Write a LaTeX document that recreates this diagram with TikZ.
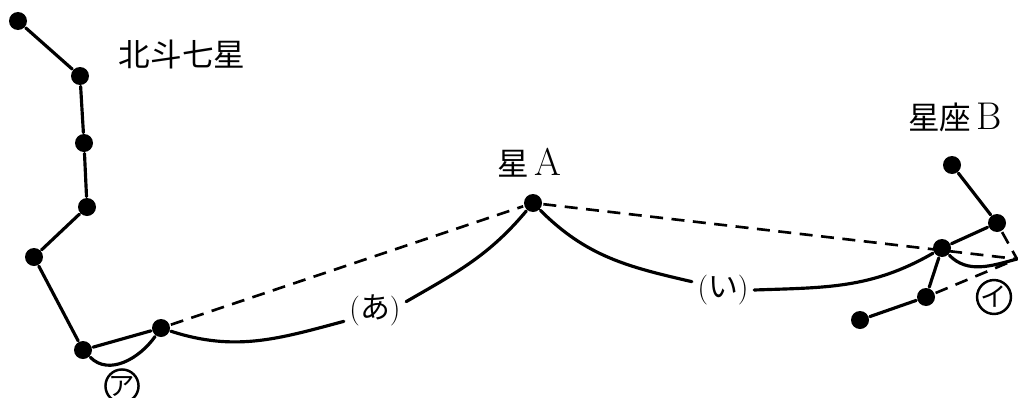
\documentclass[tikz,border=0pt]{standalone}
\usepackage{fontspec}
\newfontfamily\cjk{Noto Sans CJK JP}
\pgfdeclarelayer{bg}
\pgfsetlayers{bg,main}
\begin{document}
\begin{tikzpicture}[x=0.2mm,y=0.2mm,
  star/.style={circle,fill=black,minimum size=3.6mm,inner sep=0pt,outer sep=0.8pt},
  link/.style={line width=1.8pt,line cap=round},
  guide/.style={line width=1.5pt,dash pattern=on 2.6mm off 1.7mm},
  lbl/.style={font=\cjk\fontsize{18}{20}\selectfont,inner sep=1pt},
  tag/.style={font=\cjk\fontsize{17}{20}\selectfont,inner sep=3pt},
  cmark/.style={circle,draw,line width=1.4pt,minimum size=6.2mm,inner sep=0pt,
    font=\cjk\fontsize{15}{15}\selectfont}
]
\useasboundingbox (0,0) rectangle (1018,397);

% Big Dipper
\node[star] (s1) at (18,376) {};
\node[star] (s2) at (80,321) {};
\node[star] (s3) at (84,254) {};
\node[star] (s4) at (87,190) {};
\node[star] (s5) at (34,140) {};
\node[star] (s6) at (83,47) {};
\node[star] (s7) at (161,69) {};

% star A
\node[star] (A) at (533,194) {};

% constellation B
\node[star] (b1) at (952,232) {};
\node[star] (b2) at (997,174) {};
\node[star] (b3) at (942,149) {};
\node[star] (b4) at (926,100) {};
\node[star] (b5) at (860,77) {};
\coordinate (E) at (1017,138);

% labels
\node[lbl] (dip) at (182,343) {北斗七星};
\node[lbl] (labA) at (529,234) {星\,{\fontsize{22}{22}\selectfont\rmfamily A}};
\node[lbl] (labB) at (955,280) {星座\,{\fontsize{22}{22}\selectfont\rmfamily B}};
\node[tag] (ta) at (375,87) {{\rmfamily\fontsize{17}{20}\selectfont(}あ{\rmfamily\fontsize{17}{20}\selectfont)}};
\node[tag] (tb) at (723,107) {{\rmfamily\fontsize{17}{20}\selectfont(}い{\rmfamily\fontsize{17}{20}\selectfont)}};
\node[cmark] (ma) at (122,11) {ア};
\node[cmark] (mb) at (994,100) {イ};

\begin{pgfonlayer}{bg}
  % constellation lines
  \draw[link] (s1) -- (s2) -- (s3) -- (s4) -- (s5) -- (s6) -- (s7);
  \draw[link] (b1) -- (b2) -- (b3) -- (b4) -- (b5);

  % straight guides
  \draw[guide] (s7) -- (A);
  \draw[guide] (A) -- (E);
  \draw[guide] (b2) -- (E);
  \draw[guide] (b4) -- (E);

  % curved paths
  \draw[link] (s6) to[out=-45,in=235] (s7);
  \draw[link] (s7) to[out=-18,in=195] (ta.200);
  \draw[link] (ta.15) to[out=30,in=230] (A);
  \draw[link] (A) to[out=-45,in=167] (tb.165);
  \draw[link] (tb.0) to[out=2,in=210] (b3);
  \draw[link] (b3) to[out=-45,in=195] (E);
\end{pgfonlayer}
\end{tikzpicture}
\end{document}
